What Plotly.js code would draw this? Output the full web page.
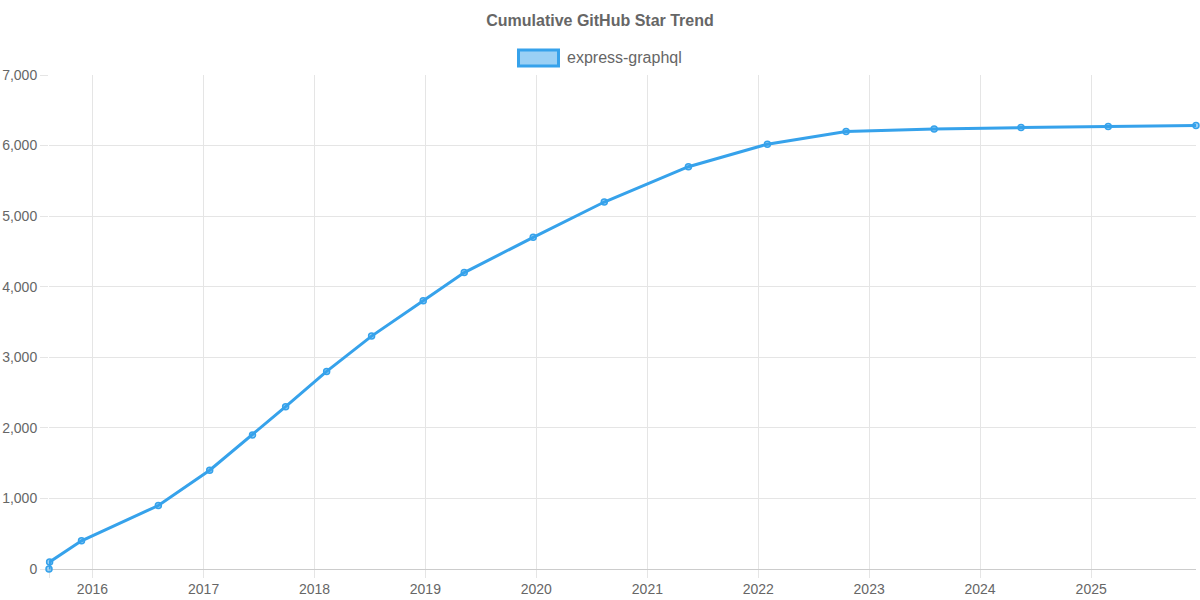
<!DOCTYPE html>
<html>
<head>
<meta charset="utf-8">
<script src="https://cdn.plot.ly/plotly-3.0.1.min.js"></script>
<style>html,body{margin:0;padding:0;background:#fff}#chart{width:1200px;height:600px}</style>
</head>
<body>
<div id="chart"></div>
<script>
const seriesName = "express-graphql";
const chartTitle = "Cumulative GitHub Star Trend";
const dates = ["2015-08-11","2015-08-13","2015-11-26","2016-08-05","2017-01-21","2017-06-11","2017-09-28","2018-02-10","2018-07-08","2018-12-25","2019-05-09","2019-12-22","2020-08-12","2021-05-16","2022-01-31","2022-10-17","2023-08-03","2024-05-15","2025-02-26","2025-12-12"];
const stars = [0,100,400,900,1400,1900,2300,2800,3300,3800,4200,4700,5200,5700,6020,6200,6235,6255,6270,6285];
const yearTicks = ["2016-01-01","2017-01-01","2018-01-01","2019-01-01","2020-01-01","2021-01-01","2022-01-01","2023-01-01","2024-01-01","2025-01-01"];
const yearLabels = ["2016","2017","2018","2019","2020","2021","2022","2023","2024","2025"];
const yTicks = [0,1000,2000,3000,4000,5000,6000,7000];
const xStart = "2015-08-11";
const xEnd = "2025-12-12";

const blue = "#36a2eb";
const grey = "#666666";
const gridC = "#e5e5e5";
const font = "Liberation Sans, Arial, sans-serif";

Plotly.newPlot("chart", [{
  type: "scatter",
  mode: "lines+markers",
  name: seriesName,
  x: dates,
  y: stars,
  cliponaxis: false,
  line: {color: blue, width: 3},
  marker: {size: 6, color: "rgba(54,162,235,0.5)", line: {color: blue, width: 1.5}},
  hoverinfo: "x+y"
}], {
  width: 1200,
  height: 600,
  paper_bgcolor: "#fff",
  plot_bgcolor: "#fff",
  showlegend: false,
  font: {family: font, color: grey, size: 14},
  margin: {l: 49, r: 4, t: 75, b: 30.5, pad: 0},
  title: {text: "<b>" + chartTitle + "</b>", font: {family: font, size: 16, color: grey}, x: 0.5, xanchor: "center", y: 0.9667, yanchor: "middle"},
  xaxis: {
    type: "date",
    range: [xStart, xEnd],
    tickmode: "array",
    tickvals: [xStart].concat(yearTicks),
    ticktext: [""].concat(yearLabels),
    ticks: "outside", ticklen: 8, tickwidth: 1, tickcolor: gridC,
    ticklabelstandoff: -1,
    showgrid: true, gridcolor: gridC, gridwidth: 1,
    showline: true, linecolor: "#cccccc", linewidth: 1,
    zeroline: false,
    layer: "below traces",
    tickangle: 0,
    tickfont: {family: font, size: 14, color: grey}
  },
  yaxis: {
    range: [0, 7000],
    tickmode: "array",
    tickvals: yTicks,
    tickformat: ",d",
    ticks: "outside", ticklen: 8, tickwidth: 1, tickcolor: gridC,
    showgrid: true, gridcolor: gridC, gridwidth: 1,
    showline: false,
    zeroline: false,
    layer: "below traces",
    tickfont: {family: font, size: 14, color: grey}
  },
  shapes: [{
    type: "rect", xref: "paper", yref: "paper", layer: "above",
    xsizemode: "pixel", ysizemode: "pixel",
    xanchor: 0, yanchor: 1,
    x0: 469.5, x1: 509.5, y0: 9, y1: 25,
    fillcolor: "rgba(54,162,235,0.5)",
    line: {color: blue, width: 3}
  }],
  annotations: [{
    xref: "paper", yref: "paper", x: 0, y: 1,
    xanchor: "left", yanchor: "middle", xshift: 516, yshift: 18,
    text: seriesName, showarrow: false,
    font: {family: font, size: 16, color: grey}
  }]
}, {displayModeBar: false, responsive: false});
</script>
</body>
</html>
